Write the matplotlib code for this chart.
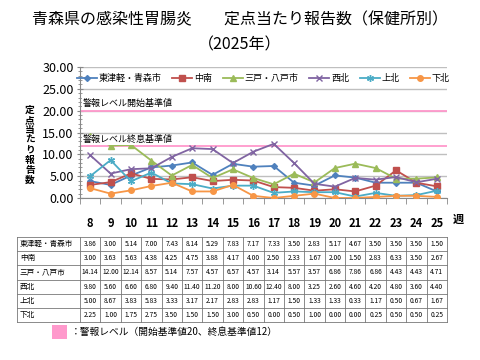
import matplotlib
matplotlib.use("Agg")
import matplotlib.pyplot as plt
from matplotlib.ticker import MultipleLocator, FixedLocator
import numpy as np

plt.rcParams['font.family'] = ['Noto Sans CJK JP', 'DejaVu Sans']

# --- データ ---
weeks = [8, 9, 10, 11, 12, 13, 14, 15, 16, 17, 18, 19, 20, 21, 22, 23, 24, 25]
areas = ['東津軽・青森市', '中南', '三戸・八戸市', '西北', '上北', '下北']
higashitsugaru = [3.86, 3.00, 5.14, 7.00, 7.43, 8.14, 5.29, 7.83, 7.17, 7.33, 3.50, 2.83, 5.17, 4.67, 3.50, 3.50, 3.50, 1.50]
chunan = [3.00, 3.63, 5.63, 4.38, 4.25, 4.75, 3.88, 4.17, 4.00, 2.50, 2.33, 1.67, 2.00, 1.50, 2.83, 6.33, 3.50, 2.67]
sannohe = [14.14, 12.00, 12.14, 8.57, 5.14, 7.57, 4.57, 6.57, 4.57, 3.14, 5.57, 3.57, 6.86, 7.86, 6.86, 4.43, 4.43, 4.71]
seihoku = [9.80, 5.60, 6.60, 6.80, 9.40, 11.40, 11.20, 8.00, 10.60, 12.40, 8.00, 3.25, 2.60, 4.60, 4.20, 4.80, 3.60, 4.40]
kamikita = [5.00, 8.67, 3.83, 5.83, 3.33, 3.17, 2.17, 2.83, 2.83, 1.17, 1.50, 1.33, 1.33, 0.33, 1.17, 0.50, 0.67, 1.67]
shimokita = [2.25, 1.00, 1.75, 2.75, 3.50, 1.50, 1.50, 3.00, 0.50, 0.00, 0.50, 1.00, 0.00, 0.00, 0.25, 0.50, 0.50, 0.25]
series = [higashitsugaru, chunan, sannohe, seihoku, kamikita, shimokita]
alert_start = 20
alert_end = 12

colors = ['#4F81BD', '#C0504D', '#9BBB59', '#8064A2', '#4BACC6', '#F79646']
markers = ['D', 's', '^', 'x', (6, 2, 0), 'o']
msizes = [3, 4, 4, 5, 5, 4]
pink = '#FF99CC'

W, H = 480, 360
fig = plt.figure(figsize=(W / 100, H / 100), dpi=100)

def fx(px):
    return px / W

def fy(py):
    return 1 - py / H

# タイトル
fig.text(0.5, fy(20), '青森県の感染性胃腸炎　　定点当たり報告数（保健所別）',
         ha='center', va='center', fontsize=11.5)
fig.text(0.5, fy(45), '（2025年）', ha='center', va='center', fontsize=11.5)

# --- グラフ ---
left, right, top, bottom = 80, 447, 67, 198
ax = fig.add_axes([fx(left), fy(bottom), fx(right - left), (bottom - top) / H])
x = np.arange(len(weeks))
for vals, name, c, m, ms in zip(series, areas, colors, markers, msizes):
    ax.plot(x, vals, color=c, marker=m, markersize=ms, linewidth=1.3,
            label=name, zorder=3)

ax.axhline(alert_start, color=pink, linewidth=1.3, zorder=2)
ax.axhline(alert_end, color=pink, linewidth=1.3, zorder=2)
ax.text(-0.35, alert_start + 1.6, '警報レベル開始基準値', fontsize=6.5,
        va='center', ha='left', zorder=5,
        bbox=dict(facecolor='white', edgecolor='none', pad=0.5))
ax.text(-0.35, alert_end + 1.3, '警報レベル終息基準値', fontsize=6.5,
        va='center', ha='left', zorder=5,
        bbox=dict(facecolor='white', edgecolor='none', pad=0.5))

ax.set_xlim(-0.5, len(weeks) - 0.5)
ax.set_ylim(0, 30)
ax.yaxis.set_major_locator(MultipleLocator(5))
ax.yaxis.set_minor_locator(MultipleLocator(1))
ax.set_yticklabels([f'{v:.2f}' for v in ax.get_yticks()], fontsize=9)
ax.tick_params(axis='y', which='major', direction='inout', length=5, color='#888888', pad=2)
ax.tick_params(axis='y', which='minor', direction='inout', length=3, color='#888888')
ax.set_xticks(x)
ax.set_xticklabels([str(w) for w in weeks], fontsize=8, fontweight='bold')
ax.xaxis.set_minor_locator(FixedLocator(np.arange(-0.5, len(weeks), 1)))
ax.tick_params(axis='x', which='major', length=0, pad=14)
ax.tick_params(axis='x', which='minor', length=4, color='#888888')
ax.grid(axis='y', which='major', color='#BFBFBF', linewidth=1)
ax.set_axisbelow(True)
for s in ['top', 'right']:
    ax.spines[s].set_visible(False)
ax.spines['left'].set_color('#888888')
ax.spines['bottom'].set_color('#888888')
ax.set_facecolor('white')

ax.legend(loc='upper center', bbox_to_anchor=(0.5, 0.99), ncol=6, frameon=False,
          fontsize=6.5, handlelength=2.2, handletextpad=0.2, columnspacing=1.2,
          borderaxespad=0.2)

fig.text(fx(458), fy(219), '週', fontsize=8, fontweight='bold', ha='center', va='center')

# y軸ラベル（縦書き）
fig.text(fx(30), fy(145), '\n'.join('定点当たり報告数'), fontsize=7, fontweight='bold',
         ha='center', va='center', linespacing=1.0)

# --- 表 ---
tab_top, row_h = 237, 14.2
tab_left, lab_w = 17, 63
col_w = (right - left) / len(weeks)
tax = fig.add_axes([0, 0, 1, 1])
tax.set_xlim(0, W)
tax.set_ylim(H, 0)
tax.axis('off')
for r, (name, vals) in enumerate(zip(areas, series)):
    yc = tab_top + row_h * (r + 0.5)
    tax.text(tab_left + 3, yc, name, fontsize=5.5, ha='left', va='center')
    for c, v in enumerate(vals):
        tax.text(left + col_w * (c + 0.5), yc, f'{v:.2f}', fontsize=4.8,
                 ha='center', va='center')
n = len(areas)
for r in range(n + 1):
    tax.plot([tab_left, right], [tab_top + row_h * r] * 2, color='#777777', linewidth=0.6)
for xv in [tab_left] + [left + col_w * c for c in range(len(weeks) + 1)]:
    tax.plot([xv, xv], [tab_top, tab_top + row_h * n], color='#777777', linewidth=0.6)

# 注記
tax.add_patch(plt.Rectangle((52, 325), 15, 14, color=pink, linewidth=0))
tax.text(71, 332, '：警報レベル（開始基準値20、終息基準値12）', fontsize=7,
         ha='left', va='center')

fig.savefig('out.png', dpi=100)
